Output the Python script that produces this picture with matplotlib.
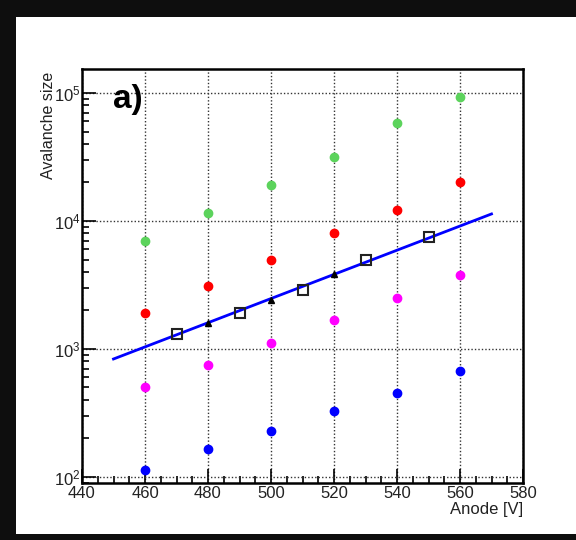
"""Avalanche size vs anode voltage, log scale."""
import matplotlib
matplotlib.use("Agg")
import matplotlib.pyplot as plt
from matplotlib.patches import Rectangle
from matplotlib.ticker import LogLocator, MultipleLocator

plt.rcParams['font.family'] = ['Liberation Sans', 'DejaVu Sans']
plt.rcParams['mathtext.fontset'] = 'custom'
plt.rcParams['mathtext.rm'] = 'Liberation Sans'

# anode voltages for the measured series
anode = [460, 480, 500, 520, 540, 560]
green_vals = [7000, 11600, 19100, 31600, 58400, 93000]
red_vals = [1910, 3100, 4960, 8060, 12200, 20200]
magenta_vals = [505, 750, 1110, 1690, 2500, 3790]
blue_vals = [114, 166, 229, 328, 453, 673]

# reference points (open squares and triangles)
square_x = [470, 490, 510, 530, 550]
square_y = [1310, 1900, 2890, 4960, 7500]
tri_x = [480, 500, 520]
tri_y = [1600, 2420, 3860]

# fitted line end points
fit_x = [450, 570]
fit_y = [835, 11350]

fig = plt.figure(figsize=(5.76, 5.4), dpi=100, facecolor='#0e0e0e')
# white canvas panel
fig.patches.append(Rectangle((16 / 576, 1 - 534 / 540), 1, (534 - 17) / 540,
                             transform=fig.transFigure, facecolor='white',
                             edgecolor='none', zorder=-10))

ax = fig.add_axes([82 / 576, 1 - 483 / 540, (523 - 82) / 576, (483 - 69) / 540])
ax.set_zorder(5)
ax.set_facecolor('white')

ax.plot(anode, green_vals, 'o', color='#5cd35c', ms=6, zorder=3)
ax.plot(anode, red_vals, 'o', color='#ff0000', ms=6, zorder=3)
ax.plot(anode, magenta_vals, 'o', color='#ff00ff', ms=6, zorder=3)
ax.plot(anode, blue_vals, 'o', color='#0000ff', ms=6, zorder=3)

ax.plot(fit_x, fit_y, '-', color='#0000ff', lw=2, zorder=4)
ax.plot(square_x, square_y, 's', mfc='none', mec='#222222', mew=1.5,
        ms=7, zorder=5)
ax.plot(tri_x, tri_y, '^', color='black', ms=5, zorder=5)

ax.set_yscale('log')
ax.set_xlim(440, 580)
ax.set_ylim(89.7, 1.54e5)

ax.xaxis.set_major_locator(MultipleLocator(20))
ax.xaxis.set_minor_locator(MultipleLocator(5))
ax.yaxis.set_major_locator(LogLocator(base=10))
ax.yaxis.set_minor_locator(LogLocator(base=10, subs=range(2, 10)))

ax.tick_params(which='both', direction='in', labelsize=12, pad=2,
               width=1.2, color='black', labelcolor='#222222')
ax.tick_params(which='major', length=10)
ax.tick_params(which='minor', length=5)
ax.tick_params(axis='y', pad=1)

ax.grid(True, which='major', linestyle=(0, (1, 1.5)), color='#333333', lw=1)
for s in ax.spines.values():
    s.set_linewidth(1.8)

ax.set_xlabel('Anode [V]', fontsize=12, loc='right', labelpad=1,
              color='#222222')
ax.set_ylabel('Avalanche size', fontsize=11.5, loc='top', color='#222222')
ax.yaxis.set_label_coords(-0.06, 0.993)

ax.text(0.07, 0.963, 'a)', transform=ax.transAxes, fontsize=24,
        fontweight='bold', va='top', ha='left')

fig.savefig('out.png', dpi=100, facecolor=fig.get_facecolor())
